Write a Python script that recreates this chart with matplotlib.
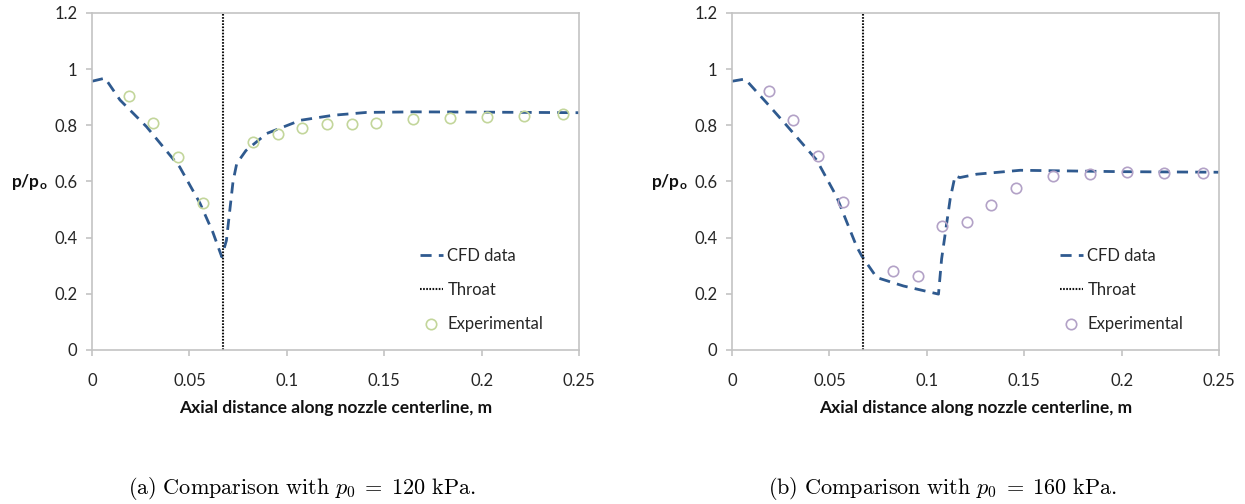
import numpy as np
import matplotlib.pyplot as plt

plt.rcParams['font.family'] = ['Lato', 'DejaVu Sans']
plt.rcParams['mathtext.fontset'] = 'cm'

# ---- data ----
throat_x = 0.067

# (a) p0 = 120 kPa
cfd_a_x = [0.0, 0.0067, 0.0144, 0.028, 0.045, 0.0554, 0.062, 0.0666,
           0.069, 0.0724, 0.0743, 0.079, 0.0897, 0.107, 0.124, 0.141,
           0.166, 0.2, 0.25]
cfd_a_y = [0.957, 0.968, 0.89, 0.795, 0.652, 0.523, 0.42, 0.332,
           0.39, 0.60, 0.664, 0.71, 0.771, 0.818, 0.836, 0.846,
           0.848, 0.847, 0.845]
exp_a_x = [0.019, 0.0315, 0.0443, 0.0571, 0.0828, 0.0953, 0.108, 0.1208,
           0.1336, 0.146, 0.165, 0.184, 0.203, 0.222, 0.242]
exp_a_y = [0.905, 0.809, 0.688, 0.525, 0.739, 0.769, 0.789, 0.803,
           0.806, 0.81, 0.824, 0.825, 0.83, 0.835, 0.84]

# (b) p0 = 160 kPa
cfd_b_x = [0.0, 0.0067, 0.0178, 0.028, 0.0435, 0.0537, 0.064, 0.0666,
           0.0743, 0.088, 0.106, 0.1076, 0.112, 0.1145, 0.117, 0.1256,
           0.148, 0.2, 0.25]
cfd_b_y = [0.957, 0.965, 0.88, 0.80, 0.676, 0.546, 0.368, 0.335,
           0.258, 0.228, 0.199, 0.324, 0.538, 0.62, 0.614, 0.626,
           0.64, 0.635, 0.633]
exp_b_x = [0.019, 0.0315, 0.0443, 0.0571, 0.0825, 0.0953, 0.1076, 0.1205,
           0.133, 0.146, 0.165, 0.184, 0.203, 0.222, 0.242]
exp_b_y = [0.922, 0.82, 0.69, 0.528, 0.281, 0.263, 0.44, 0.455,
           0.517, 0.576, 0.62, 0.625, 0.635, 0.63, 0.63]

x_ticks = [0, 0.05, 0.1, 0.15, 0.2, 0.25]
x_labels = ['0', '0.05', '0.1', '0.15', '0.2', '0.25']
y_ticks = [0, 0.2, 0.4, 0.6, 0.8, 1.0, 1.2]
y_labels = ['0', '0.2', '0.4', '0.6', '0.8', '1', '1.2']

captions = [r'$\mathrm{(a)\ Comparison\ with\ }p_0\;=\;\mathrm{120\ kPa.}$',
            r'$\mathrm{(b)\ Comparison\ with\ }p_0\;=\;\mathrm{160\ kPa.}$']

CFD_COLOR = '#2f5a8f'
GRAY = '#c4c4c4'
TXT = '#262626'

fig = plt.figure(figsize=(12.45, 5.04), dpi=100)
W, H = 1245, 504


def make_axes(x0, cfd_x, cfd_y, exp_x, exp_y, exp_color, caption):
    ax = fig.add_axes([x0 / W, (H - 350) / H, 487 / W, 337 / H])
    ax.plot(cfd_x, cfd_y, color=CFD_COLOR, lw=2.0, dashes=(4.0, 2.6),
            label='CFD data')
    ax.axvline(throat_x, color='#111111', lw=1.5, ls=(0, (0.8, 0.7)),
               label='Throat')
    ax.plot(exp_x, exp_y, ls='none', marker='o', ms=7.5, mfc='none',
            mec=exp_color, mew=1.2, label='Experimental')

    ax.set_xlim(0, 0.25)
    ax.set_ylim(0, 1.2)
    ax.set_xticks(x_ticks)
    ax.set_xticklabels(x_labels)
    ax.set_yticks(y_ticks)
    ax.set_yticklabels(y_labels)
    for s in ax.spines.values():
        s.set_color(GRAY)
        s.set_linewidth(1.2)
    ax.tick_params(axis='x', direction='out', length=4.5, width=1.2,
                   color=GRAY, pad=12, labelsize=12, labelcolor=TXT)
    ax.tick_params(axis='y', direction='out', length=4.5, width=1.2,
                   color=GRAY, pad=6, labelsize=12, labelcolor=TXT)

    ax.legend(loc='center left', bbox_to_anchor=(0.673, 0.178),
              frameon=False, fontsize=12, borderpad=0, borderaxespad=0,
              handlelength=1.4, handletextpad=0.25, labelspacing=1.1,
              numpoints=1, labelcolor=TXT)

    fig.text((x0 + 243.5) / W, 1 - 408 / H,
             'Axial distance along nozzle centerline, m',
             ha='center', va='center', fontsize=12.5, fontweight='bold',
             color='#111111')
    fig.text((x0 - 62) / W, 1 - 182 / H, r'p/p$_\mathregular{o}$',
             ha='center', va='center', fontsize=12.5, fontweight='bold',
             color='#111111')
    fig.text((x0 + 210) / W, 1 - 488 / H, caption, ha='center',
             va='center', fontsize=16)
    return ax


make_axes(92, cfd_a_x, cfd_a_y, exp_a_x, exp_a_y, '#c3d69b', captions[0])
make_axes(732, cfd_b_x, cfd_b_y, exp_b_x, exp_b_y, '#b3a2c7', captions[1])

fig.savefig('out.png', dpi=100)
